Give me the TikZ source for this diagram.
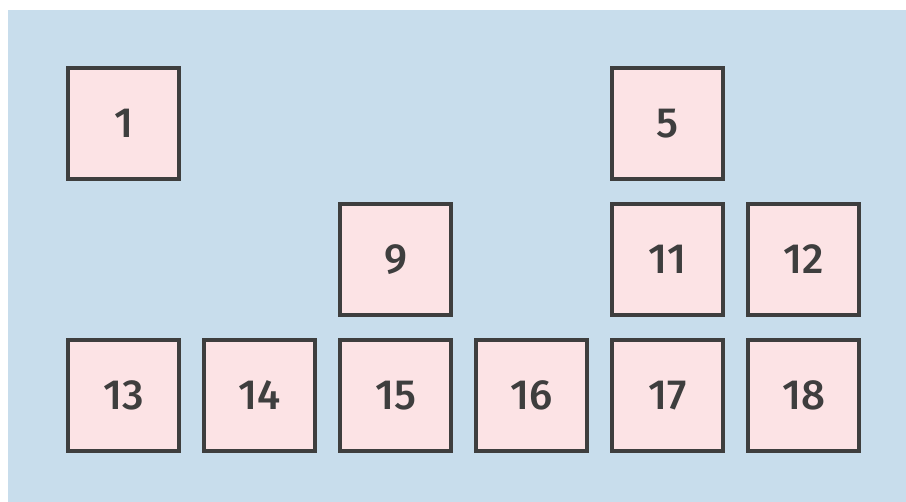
\documentclass[tikz,border=0pt]{standalone}
\usepackage{fontspec}
\setmainfont{Fira Sans}[UprightFont=* Medium]
\usepackage{tikz}
\usetikzlibrary{positioning}
\definecolor{panelblue}{RGB}{200,221,236}
\definecolor{cellpink}{RGB}{252,227,229}
\definecolor{cellgray}{RGB}{62,62,62}

\begin{document}
\begin{tikzpicture}[x=0.02cm, y=-0.02cm,
    cell/.style={rectangle, draw=cellgray, fill=cellpink, line width=0.08cm,
                 minimum size=2.22cm, inner sep=0pt, text=cellgray,
                 font=\fontsize{24}{26}\selectfont}
]
    \useasboundingbox (0,0) rectangle (906,502);
    \fill[panelblue] (8,10) rectangle (906,502);

    % top row
    \node[cell] (c1)  at (123.5,123.5) {1};
    \node[cell] (c5)  at (667.5,123.5) {5};
    % middle row
    \node[cell] (c9)  at (395.5,259.5) {9};
    \node[cell] (c11) at (667.5,259.5) {11};
    \node[cell] (c12) at (803.5,259.5) {12};
    % bottom row
    \node[cell] (c13) at (123.5,395.5) {13};
    \node[cell] (c14) at (259.5,395.5) {14};
    \node[cell] (c15) at (395.5,395.5) {15};
    \node[cell] (c16) at (531.5,395.5) {16};
    \node[cell] (c17) at (667.5,395.5) {17};
    \node[cell] (c18) at (803.5,395.5) {18};
\end{tikzpicture}
\end{document}
